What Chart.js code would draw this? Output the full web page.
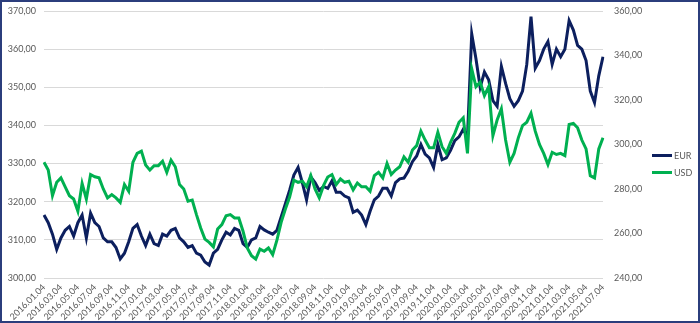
<!DOCTYPE html>
<html>
<head>
<meta charset="utf-8">
<title>EUR / USD</title>
<script src="https://cdn.jsdelivr.net/npm/chart.js@4"></script>
<style>
  html, body { margin: 0; padding: 0; background: #fff; }
  .frame { position: relative; width: 700px; height: 323px; box-sizing: border-box; border: 2px solid #2B3D7C; background: #fff; overflow: hidden; }
  .frame canvas { display: block; }
  .legend { position: absolute; left: 650px; top: 145px; font: 9px Lato, sans-serif; color: #595959; }
  .legend-item { display: flex; align-items: center; height: 17px; }
  .legend-line { width: 20px; height: 3px; margin-right: 2px; }
</style>
</head>
<body>
<div class="frame">
  <canvas id="chart-rates" width="696" height="319"></canvas>
  <div class="legend" id="chart-legend"></div>
</div>
<script>
  // Series names
  var seriesNames  = ['EUR', 'USD'];
  var seriesColors = ['#0C1F5E', '#00B050'];

  // Twice a month (the 4th and the 19th), 2016.01.04 .. 2021.07.04
  var eurValues = [
    316.5, 314.5, 311.5, 307.5, 310.5, 312.5, 313.5, 311, 314.5, 316.5,
    310.5, 317, 314.5, 313.5, 310.5, 309.5, 309.5, 308, 305, 306.5,
    309.5, 313, 314, 311, 308.5, 311.5, 309, 308.5, 311.5, 311,
    312.5, 313, 310.5, 309.5, 308, 308.5, 306.5, 306, 304.2, 303.4,
    306.5, 307.5, 310, 312, 311.3, 313, 312.5, 309, 308, 310,
    310.5, 313.5, 312.6, 312, 311.5, 312.5, 316, 319.5, 323, 327,
    329, 325, 320.5, 326.5, 325, 323, 324, 323.5, 325.5, 322.5,
    322.5, 321.5, 321, 317.2, 317.8, 316.5, 314, 317.5, 320.5, 321.5,
    323.5, 323.5, 321.5, 325, 326, 326.2, 328, 330.5, 332, 335,
    332.5, 331.5, 329, 335, 331, 331.5, 333.5, 336, 337, 339,
    337, 364, 357.5, 350, 354, 352, 346.5, 345, 355.5, 351,
    347, 345, 346.5, 349, 356, 368.5, 355, 357, 360, 362,
    356, 360, 358, 360, 367.5, 365, 361, 360, 357, 349,
    346, 353, 358
  ];

  var usdValues = [
    292, 288.5, 277, 283, 285, 281, 277, 275.5, 270, 282.5,
    275.5, 286.5, 285.5, 285, 280, 276, 277.5, 276, 274, 282,
    279, 292, 296, 297, 290.8, 288.5, 290.5, 290.5, 292.5, 287.5,
    293, 290, 282, 280, 274.5, 275, 268.5, 262.5, 257.5, 256,
    254, 262, 264, 268, 268.5, 267, 267, 261, 253.5, 250,
    248.5, 253, 252, 253.5, 250.5, 257, 265, 271, 276.4, 284,
    283, 283.5, 281, 286, 280, 276, 281.5, 285.4, 286.5, 282,
    284.5, 283, 283.5, 279.6, 282.7, 281, 281, 279, 286, 287.5,
    285, 291.5, 286.5, 288.5, 290, 294.4, 292, 297.5, 299.5, 306,
    302, 298.5, 298.5, 305.5, 299, 296, 301, 305, 310, 312,
    296, 334, 326, 328, 322, 326, 304, 311, 316, 302,
    292, 296, 303, 308.5, 310, 314, 306, 300, 296, 291,
    296.5, 295.5, 296, 295, 309, 309.5, 307.5, 302, 298, 286,
    285, 298, 303
  ];

  // Axis ranges and steps
  var eurTicks = { min: 300, max: 370, step: 10 };
  var usdTicks = { min: 240, max: 360, step: 20 };

  // Date labels, one every half month; only the 2-monthly ones are printed
  var dateLabels = [];
  for (var y = 2016; y <= 2021; y++) {
    for (var m = 1; m <= 12; m++) {
      var mm = String(m).padStart(2, '0');
      dateLabels.push(y + '.' + mm + '.04');
      dateLabels.push(y + '.' + mm + '.19');
    }
  }
  dateLabels = dateLabels.slice(0, eurValues.length);

  var textColor = '#595959';
  var tickFont  = { family: 'Lato', size: 9 };

  function fmt(v) { return v.toFixed(2).replace('.', ','); }

  // keep the end labels from pushing the plot area in
  function fixY(width) {
    return function (s) { s.width = width; s.paddingTop = 5; s.paddingBottom = 5; };
  }

  new Chart(document.getElementById('chart-rates'), {
    type: 'line',
    data: {
      labels: dateLabels,
      datasets: [
        { label: seriesNames[0], data: eurValues, yAxisID: 'y',  borderColor: seriesColors[0], order: 1 },
        { label: seriesNames[1], data: usdValues, yAxisID: 'y1', borderColor: seriesColors[1], order: 0 }
      ]
    },
    options: {
      responsive: false,
      animation: false,
      layout: { padding: { left: 0, right: 47, top: 9, bottom: 0 } },
      elements: {
        point: { radius: 0 },
        line:  { borderWidth: 3, tension: 0, fill: false }
      },
      plugins: {
        tooltip: { enabled: false },
        legend: { display: false }
      },
      scales: {
        x: {
          grid: { display: false, drawTicks: false },
          border: { display: false },
          afterFit: function (s) { s.height = 43; },
          ticks: {
            autoSkip: false, minRotation: 45, maxRotation: 45,
            color: textColor, font: tickFont, padding: 4,
            callback: function (v, i) { return i % 4 === 0 ? dateLabels[i] : ''; }
          }
        },
        y: {
          position: 'left',
          min: eurTicks.min, max: eurTicks.max,
          border: { display: false },
          afterFit: fixY(42),
          grid: { color: '#D9D9D9', lineWidth: 1, drawTicks: false },
          ticks: { stepSize: eurTicks.step, color: textColor, font: tickFont, padding: 8, callback: fmt }
        },
        y1: {
          position: 'right',
          min: usdTicks.min, max: usdTicks.max,
          border: { display: false },
          afterFit: fixY(48),
          grid: { drawOnChartArea: false, drawTicks: false },
          ticks: { stepSize: usdTicks.step, color: textColor, font: tickFont, padding: 11, callback: fmt }
        }
      }
    }
  });

  // Legend at the right, in dataset order
  var legendHtml = seriesNames.map(function (name, i) {
    return '<div class="legend-item"><span class="legend-line" style="background:' + seriesColors[i] + '"></span>' + name + '</div>';
  }).join('');
  document.getElementById('chart-legend').innerHTML = legendHtml;
</script>
</body>
</html>
